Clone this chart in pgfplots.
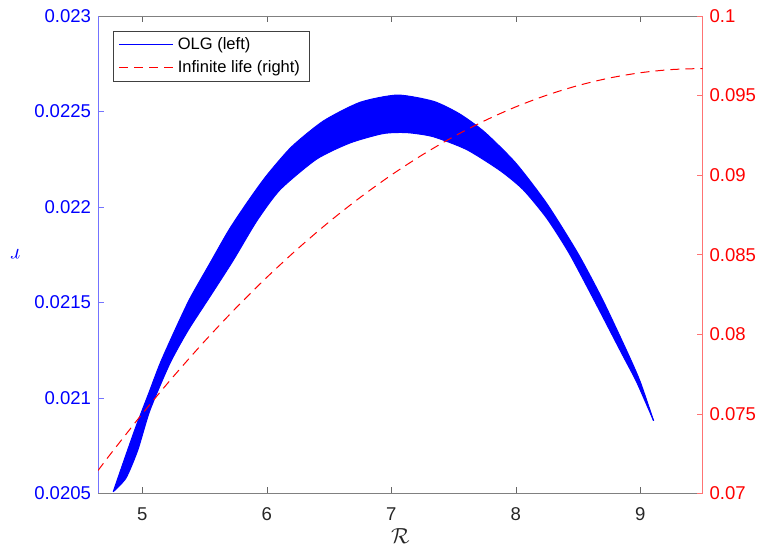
\documentclass[border=0pt]{standalone}
\usepackage{fontspec}
\setmainfont{Liberation Sans}
\usepackage{pgfplots}
\usepgfplotslibrary{fillbetween}
\pgfplotsset{compat=1.18}
\begin{document}
\begin{tikzpicture}
\pgfplotsset{
  common/.style={
    width=302.25bp, height=238.65bp, scale only axis,
    xmin=4.645, xmax=9.5,
    tick align=inside,
    major tick length=3bp,
    scaled y ticks=false, scaled x ticks=false,
    every tick label/.append style={font=\fontsize{9.3}{11}\selectfont},
    /pgf/number format/assume math mode=true,
  }
}
\begin{axis}[common, name=ax,
  ymin=0.0205, ymax=0.023,
  axis x line=box, axis y line*=left,
  x axis line style={black!50, -},
  y axis line style={blue!55, -},
  xtick={5,6,7,8,9},
  xticklabels={5,6,7,8,9},
  xtick pos=both, xticklabel pos=lower,
  xticklabel style={font=\fontsize{9.3}{11}\selectfont, text=black!85, yshift=-3.6bp},
  xtick style={black!60},
  ytick={0.0205,0.021,0.0215,0.022,0.0225,0.023},
  yticklabels={0.0205,0.021,0.0215,0.022,0.0225,0.023},
  yticklabel style={font=\fontsize{9.3}{11}\selectfont, text=blue},
  ytick style={blue!55},
  xlabel={$\mathcal{R}$},
  xlabel style={at={(axis description cs:0.5,0)}, anchor=center, yshift=-21.5bp, font=\fontsize{11}{13}\selectfont, text=black!85},
  ylabel={$r$},
  ylabel style={at={(axis description cs:-0.137,0.5)}, anchor=center, rotate=90, font=\fontsize{11}{13}\selectfont, text=blue},
]
\addplot[name path=up, draw=blue, line width=0.5bp, smooth, tension=0.4] coordinates {
(4.767,0.020508) (4.85,0.020665) (4.95,0.020850) (5.05,0.021020) (5.144,0.021181)
(5.263,0.021355) (5.383,0.021520) (5.544,0.021705) (5.697,0.021880) (5.85,0.022030)
(6.00,0.022165) (6.20,0.022315) (6.455,0.022450) (6.75,0.022548) (7.05,0.022586)
(7.34,0.022553) (7.55,0.022487) (7.75,0.022392) (8.00,0.022230) (8.25,0.022017)
(8.50,0.021756) (8.70,0.021511) (8.90,0.021234) (9.00,0.021084) (9.107,0.020880)
};
\addplot[name path=lo, draw=blue, line width=0.5bp, smooth, tension=0.4] coordinates {
(4.767,0.020508) (4.87,0.020580) (4.965,0.020727) (5.063,0.020936) (5.223,0.021181)
(5.370,0.021355) (5.544,0.021530) (5.731,0.021720) (5.919,0.021925) (6.107,0.022090)
(6.40,0.022250) (6.669,0.022335) (6.934,0.022384) (7.125,0.022389) (7.336,0.022368)
(7.607,0.022300) (7.875,0.022190) (8.06,0.022090) (8.25,0.021940) (8.43,0.021756)
(8.63,0.021511) (8.85,0.021234) (8.97,0.021084) (9.107,0.020880)
};
\addplot[blue] fill between[of=up and lo];
\end{axis}
\begin{axis}[common,
  ymin=0.07, ymax=0.1,
  axis y line*=right, axis x line=none,
  y axis line style={red!55, -},
  ytick={0.07,0.075,0.08,0.085,0.09,0.095,0.1},
  yticklabels={0.07,0.075,0.08,0.085,0.09,0.095,0.1},
  yticklabel style={font=\fontsize{9.3}{11}\selectfont, text=red},
  ytick style={red!55},
  legend style={at={(0,1)}, anchor=north west, xshift=7.65bp, yshift=-7.5bp,
    draw=black!75, line width=0.5bp, fill=white,
    font=\fontsize{8.3}{10}\selectfont, cells={anchor=west},
    inner xsep=2.5bp, inner ysep=1bp, row sep=0bp},
  legend image code/.code={\draw[#1] (0bp,0bp) -- (27bp,0bp);},
]
\addlegendimage{blue, line width=0.5bp}
\addlegendentry{OLG (left)}
\addplot[red, line width=0.5bp, dash pattern=on 4.5bp off 3bp, smooth] coordinates {
(4.645,0.071432) (4.75,0.072513) (5.0,0.074992) (5.25,0.077337) (5.5,0.079548)
(5.75,0.081625) (6.0,0.083568) (6.25,0.085377) (6.5,0.087052) (6.75,0.088593)
(7.0,0.090000) (7.25,0.091273) (7.5,0.092412) (7.75,0.093417) (8.0,0.094288)
(8.25,0.095025) (8.5,0.095628) (8.75,0.096097) (9.0,0.096432) (9.25,0.096633)
(9.5,0.096700)
};
\addlegendentry{Infinite life (right)}
\end{axis}
\pgfresetboundingbox
\path ([shift={(-49bp,-25.35bp)}]ax.south west) rectangle ([shift={(27.75bp,8bp)}]ax.north east);
\end{tikzpicture}
\end{document}
